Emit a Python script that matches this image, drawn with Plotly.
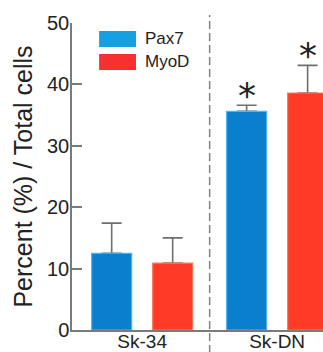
import plotly.graph_objects as go

# ---- data ----
categories = ["Sk-34", "Sk-DN"]
pax7_mean = [12.5, 35.6]
pax7_err = [4.9, 1.0]
myod_mean = [10.9, 38.6]
myod_err = [4.1, 4.5]
significance = ["", "*"]
series_names = ["Pax7", "MyoD"]
y_ticks = [0, 10, 20, 30, 40, 50]

# ---- style ----
W, H = 323, 352
M = dict(l=72, r=0, t=23, b=22)
FONT = "Liberation Sans, Arial, sans-serif"
AXIS_COL = "#7a7a7a"
bar_fill = ["#0a80cc", "#ff3b28"]
bar_edge = ["#4cb6ee", "#ff7a62"]
legend_fill = ["#14a0e2", "#f83030"]
x_range = [-0.52, 1.34]
bargap = 0.096
bargroupgap = 0.344

plot_w = W - M["l"] - M["r"]
px_per_cat = plot_w / (x_range[1] - x_range[0])
slot = px_per_cat * (1 - bargap) / 2
shifts = [-slot / 2, slot / 2]

data_means = [pax7_mean, myod_mean]
data_errs = [pax7_err, myod_err]

fig = go.Figure()
for k in range(2):
    # error bars (drawn first so the real bars hide the lower part)
    fig.add_trace(go.Bar(
        x=categories, y=data_means[k], offsetgroup=series_names[k],
        marker=dict(color="rgba(0,0,0,0)", line=dict(width=0)),
        error_y=dict(type="data", symmetric=False, array=data_errs[k],
                     arrayminus=[0] * len(categories),
                     color="#6e6e6e", thickness=1.6, width=10),
        showlegend=False, hoverinfo="skip",
    ))
for k in range(2):
    fig.add_trace(go.Bar(
        x=categories, y=data_means[k], offsetgroup=series_names[k],
        name=series_names[k],
        marker=dict(color=bar_fill[k], line=dict(color=bar_edge[k], width=1.2)),
        showlegend=False,
    ))

annotations = []
for k in range(2):
    for i, c in enumerate(categories):
        if significance[i]:
            annotations.append(dict(
                x=c, y=data_means[k][i] + data_errs[k][i], xref="x", yref="y",
                text=significance[i], showarrow=False, xshift=shifts[k],
                yanchor="middle", yshift=10,
                font=dict(family="DejaVu Sans", size=36, color="#222"),
            ))

# custom legend
leg_x0, leg_x1, leg_tx = 0.108, 0.255, 0.283
leg_rows = [(0.922, 0.974), (0.847, 0.899)]
shapes = []
for k in range(2):
    y0, y1 = leg_rows[k]
    shapes.append(dict(type="rect", xref="paper", yref="paper",
                       x0=leg_x0, x1=leg_x1, y0=y0, y1=y1,
                       fillcolor=legend_fill[k], line=dict(width=0)))
    annotations.append(dict(x=leg_tx, y=(y0 + y1) / 2, xref="paper", yref="paper",
                            text=series_names[k], showarrow=False,
                            xanchor="left", yanchor="middle",
                            font=dict(family=FONT, size=17, color="#222")))

# dashed separator between groups
shapes.append(dict(type="line", xref="x", yref="paper", x0=0.5, x1=0.5,
                   y0=-0.075, y1=1.026,
                   line=dict(color="#808080", width=1.5, dash="8px,4px")))

fig.update_layout(
    width=W, height=H, autosize=False, margin=M,
    paper_bgcolor="white", plot_bgcolor="white",
    barmode="group", bargap=bargap, bargroupgap=bargroupgap,
    showlegend=False, shapes=shapes, annotations=annotations,
    font=dict(family=FONT, color="#222"),
)
fig.update_xaxes(
    range=x_range, showline=True, linecolor=AXIS_COL, linewidth=1.5,
    ticks="", showgrid=False, zeroline=False, ticklabelstandoff=-7,
    automargin=False,
    tickfont=dict(family=FONT, size=19, color="#222"),
)
fig.update_yaxes(
    range=[0, 50], tickvals=y_ticks, ticks="inside", ticklen=10, tickwidth=1.5,
    tickcolor=AXIS_COL, showline=True, linecolor=AXIS_COL, linewidth=1.5,
    showgrid=False, zeroline=False, ticklabelstandoff=-3, automargin=False,
    tickfont=dict(family=FONT, size=20, color="#222"),
    title=dict(text="Percent (%) / Total cells", standoff=7,
               font=dict(family=FONT, size=25, color="#222")),
)

fig.write_html("out.html")
